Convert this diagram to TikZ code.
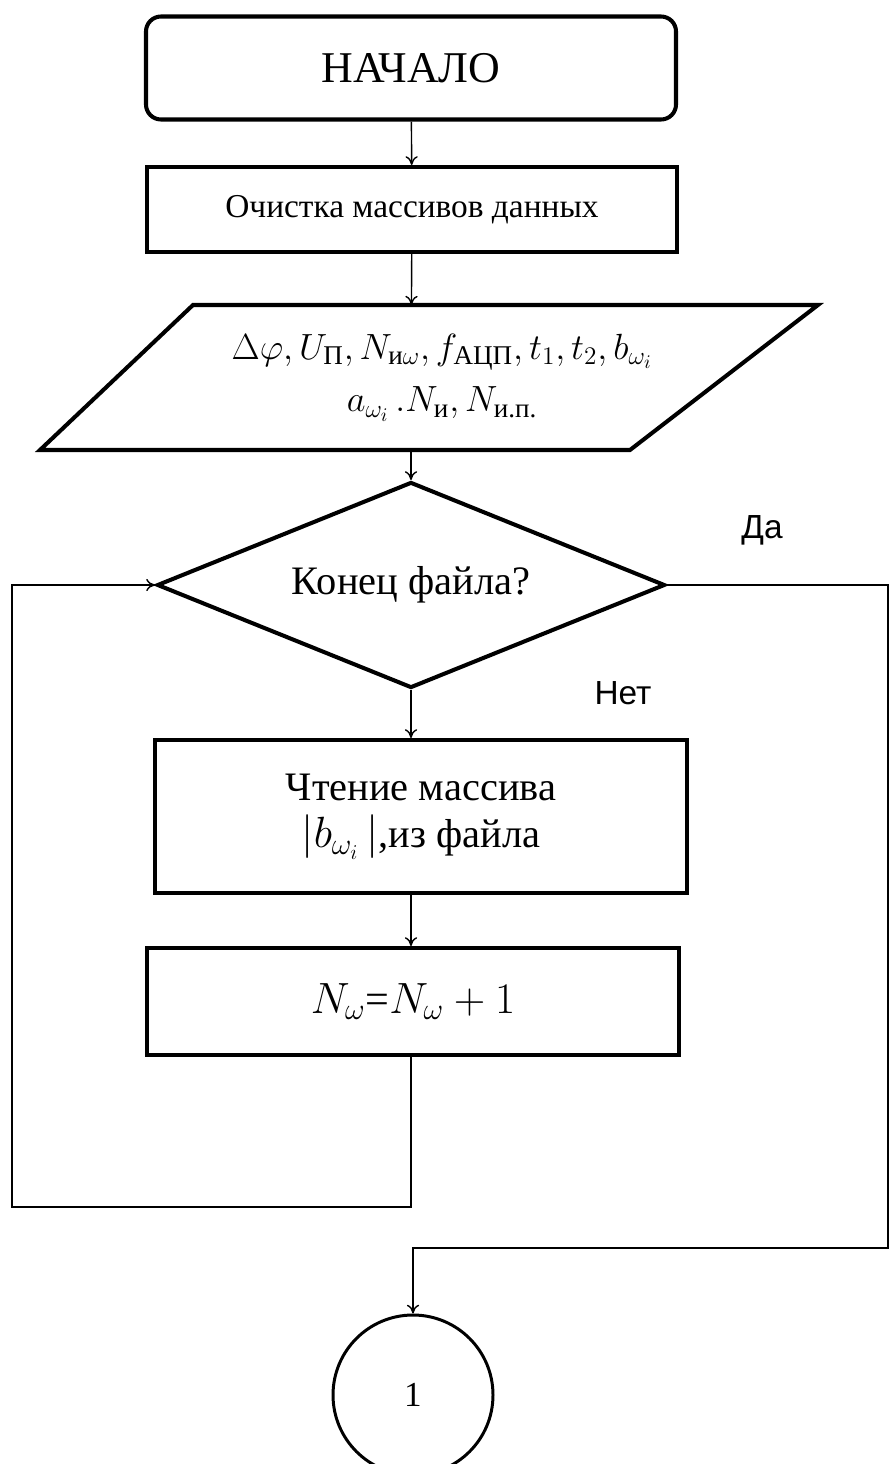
\documentclass[tikz,border=0pt]{standalone}
\usepackage{fontspec}
\usepackage{amsmath}
\setmainfont{Liberation Serif}
\newfontfamily\labelfont{Liberation Sans}
\usetikzlibrary{shapes.geometric,arrows.meta}
\tikzset{
  block/.style={draw=black, line width=2.3pt, minimum width=10.6cm, align=center, inner sep=0pt},
  startbox/.style={block, rounded corners=0.3cm, minimum height=2.06cm, font=\fontsize{25}{30}\selectfont},
  procbox/.style={block, minimum height=1.7cm},
  decide/.style={draw=black, line width=2.3pt, shape=diamond, aspect=2.47, inner sep=0pt, minimum width=10.16cm, minimum height=4.12cm, font=\fontsize{23}{28}\selectfont},
  joint/.style={draw=black, line width=1.7pt, circle, minimum size=3.2cm, inner sep=0pt, font=\fontsize{20}{24}\selectfont},
  branch/.style={font=\labelfont\fontsize{19}{22}\selectfont},
  flow/.style={line width=0.8pt, draw=black, -{To[length=5pt,width=7pt]}},
  wire/.style={line width=0.8pt, draw=black},
}

\begin{document}
\begin{tikzpicture}
\useasboundingbox (0,0) rectangle (17.8,-29.28);
\node[startbox] (start) at (8.22,-1.36) {НАЧАЛО};
\node[procbox, minimum width=10.6cm, font=\fontsize{19}{22}\selectfont] (clean) at (8.24,-4.19) {Очистка массивов данных};
\node[minimum width=8cm, minimum height=2.9cm, inner sep=0pt] (inp) at (8.22,-7.55) {};
\draw[line width=2.3pt, line join=miter] (3.86,-6.1) -- (16.36,-6.1) -- (12.6,-9.0) -- (0.8,-9.0) -- cycle;
\node[align=center, font=\fontsize{22}{30}\selectfont] (inptext) at (8.84,-7.55)
  {$\Delta\varphi, U_{\text{П}}, N_{\text{и}\omega}, f_{\text{АЦП}}, t_1, t_2, b_{\omega_i}$\\
   $a_{\omega_i}\,.N_{\text{и}}, N_{\text{и.п.}}$};
\node[decide] (dec) at (8.22,-11.7) {Конец файла?};
\node[procbox, minimum width=10.64cm, minimum height=3.06cm, font=\fontsize{23}{27}\selectfont] (read) at (8.42,-16.33)
  {Чтение массива\\$|b_{\omega_i}\,|$,из файла};
\node[procbox, minimum width=10.64cm, minimum height=2.14cm, font=\fontsize{24}{28}\selectfont] (count) at (8.26,-20.03)
  {$N_\omega$=$N_\omega+1$};
\node[joint] (conn) at (8.26,-27.9) {1};
\node[branch] (yes) at (15.24,-10.6) {Да};
\node[branch] (no) at (12.46,-13.86) {Нет};
\coordinate (loopbl) at (0.24,-24.14);
\coordinate (exitr) at (17.76,-24.96);
\draw[flow] (start) -- (clean);
\draw[flow] (clean) -- (inp);
\draw[flow] (inp) -- (dec);
\draw[flow] (dec.south) -- (dec.south |- read.north);
\draw[flow] (dec.south |- read.south) -- (dec.south |- count.north);
\draw[wire] (dec.south |- count.south) |- (loopbl) |- (dec.west);
\draw[flow] (loopbl |- dec.west) -- (dec.west);
\draw[wire] (dec.east) -| (exitr) -| ([yshift=1pt]conn.north);
\draw[flow] (conn.north |- exitr) -- (conn.north);
\end{tikzpicture}
\end{document}
